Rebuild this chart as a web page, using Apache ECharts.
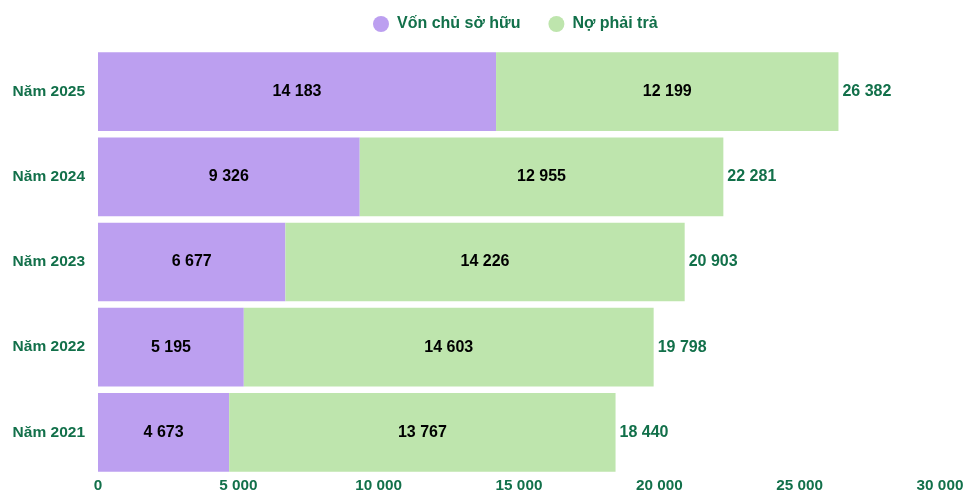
<!DOCTYPE html>
<html>
<head>
<meta charset="utf-8">
<script src="https://cdn.jsdelivr.net/npm/echarts@6/dist/echarts.min.js"></script>
<style>
  html, body { margin: 0; padding: 0; background: #fff; }
  #main { width: 964px; height: 490px; }
</style>
</head>
<body>
<div id="main"></div>
<script>
// dữ liệu
const years = ['Năm 2021', 'Năm 2022', 'Năm 2023', 'Năm 2024', 'Năm 2025'];
const vonChuSoHuu = [4673, 5195, 6677, 9326, 14183];
const noPhaiTra = [13767, 14603, 14226, 12955, 12199];
const tongCong = vonChuSoHuu.map((v, i) => v + noPhaiTra[i]);

const textColor = '#12704a';
const fontFam = '"Liberation Sans", Arial, sans-serif';

// định dạng số với dấu cách
const fmt = (n) => String(n).replace(/\B(?=(\d{3})+(?!\d))/g, ' ');

const chart = echarts.init(document.getElementById('main'));
const option = {
    animation: false,
    legend: {
        top: 11,
        left: 368,
        data: ['Vốn chủ sở hữu', 'Nợ phải trả'],
        icon: 'circle',
        itemWidth: 16,
        itemHeight: 16,
        itemGap: 28,
        textStyle: { color: textColor, fontSize: 16, fontWeight: 'bold', fontFamily: fontFam, padding: [0, 0, 0, 3] }
    },
    grid: { left: 98, right: 24, top: 49, bottom: 15, containLabel: false, outerBoundsMode: 'none' },
    xAxis: {
        type: 'value',
        min: 0,
        max: 30000,
        interval: 5000,
        axisLine: { show: false },
        axisTick: { show: false },
        splitLine: { show: false },
        axisLabel: {
            color: textColor, fontSize: 15.3, fontWeight: 'bold', fontFamily: fontFam,
            margin: 3,
            formatter: (v) => fmt(v)
        }
    },
    yAxis: {
        type: 'category',
        data: years,
        axisLine: { show: false },
        axisTick: { show: false },
        axisLabel: { color: textColor, fontSize: 15.5, fontWeight: 'bold', fontFamily: fontFam, margin: 13 }
    },
    series: [
        {
            name: 'Vốn chủ sở hữu',
            type: 'bar',
            stack: 'total',
            barCategoryGap: '7.6%',
            data: vonChuSoHuu,
            itemStyle: { color: '#bc9ff0' },
            label: {
                show: true, position: 'inside', color: '#000',
                fontSize: 16, fontWeight: 'bold', fontFamily: fontFam,
                formatter: (p) => fmt(p.value)
            }
        },
        {
            name: 'Nợ phải trả',
            type: 'bar',
            stack: 'total',
            data: noPhaiTra,
            itemStyle: { color: '#bee5ad' },
            label: {
                show: true, position: 'inside', color: '#000',
                fontSize: 16, fontWeight: 'bold', fontFamily: fontFam,
                formatter: (p) => fmt(p.value)
            }
        },
        {
            name: 'Tổng',
            type: 'bar',
            stack: 'total',
            data: tongCong.map(() => 0),
            itemStyle: { color: 'transparent' },
            label: {
                show: true, position: 'right', distance: 4, color: textColor,
                fontSize: 16, fontWeight: 'bold', fontFamily: fontFam,
                formatter: (p) => fmt(tongCong[p.dataIndex])
            }
        }
    ]
};
chart.setOption(option);
</script>
</body>
</html>
